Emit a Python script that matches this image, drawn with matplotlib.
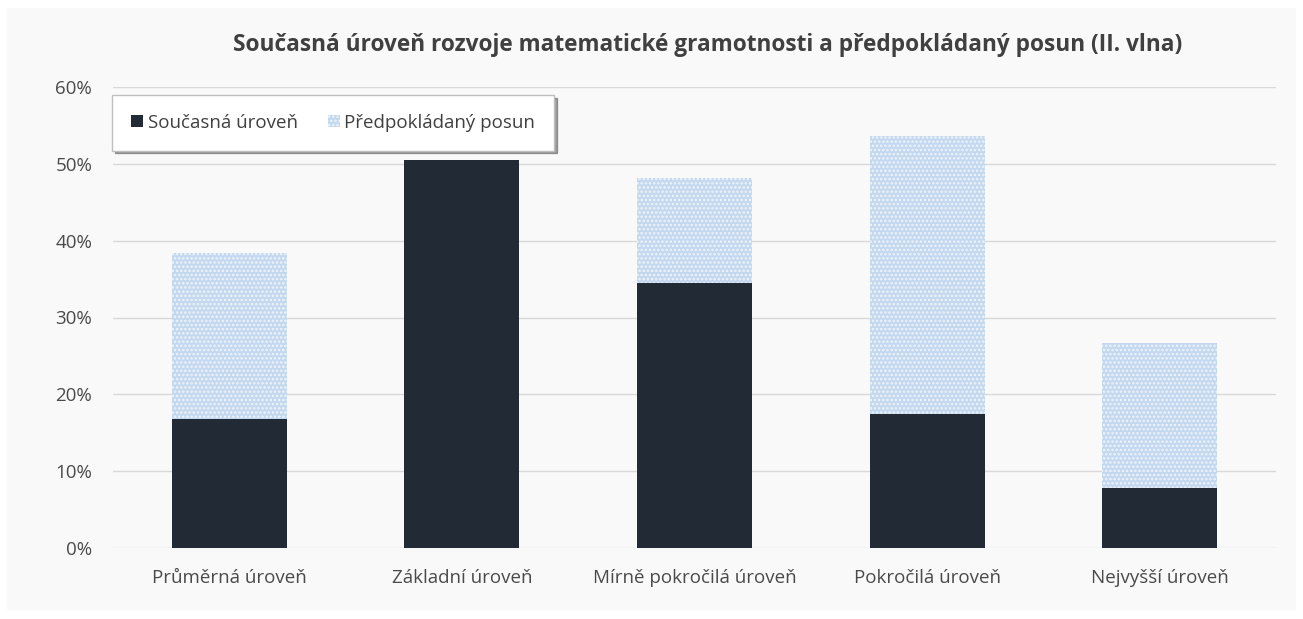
# Import libraries
import matplotlib.pyplot as plt
from matplotlib.patches import Rectangle
from matplotlib.ticker import PercentFormatter

plt.rcParams['font.family'] = ['Open Sans', 'DejaVu Sans']
plt.rcParams['hatch.linewidth'] = 1.2

# Data
categories = ["Průměrná úroveň", "Základní úroveň", "Mírně pokročilá úroveň",
              "Pokročilá úroveň", "Nejvyšší úroveň"]
current_level = [16.8, 50.5, 34.5, 17.4, 7.8]
expected_shift = [21.6, 0.0, 13.7, 36.2, 18.9]

# Figure
fig = plt.figure(figsize=(13.03, 6.19), dpi=100, facecolor="white")
fig.patches.append(Rectangle((7 / 1303, 9 / 619), 1289 / 1303, 602 / 619,
                             transform=fig.transFigure, facecolor="#f9f9f9",
                             edgecolor="none", zorder=-5))
ax = fig.add_axes([113 / 1303, 1 - 548 / 619, 1163 / 1303, 461 / 619])
ax.set_facecolor("none")

x = range(len(categories))
ax.bar(x, current_level, width=0.495, color="#222a36", label="Současná úroveň", zorder=3)
ax.bar(x, expected_shift, width=0.495, bottom=current_level, facecolor="#c3d8ee",
       edgecolor="#eef4fb", hatch="....", linewidth=0, label="Předpokládaný posun", zorder=3)

# Axes styling
ax.set_xlim(-0.5, len(categories) - 0.5)
ax.set_ylim(0, 60)
ax.set_yticks(range(0, 61, 10))
ax.yaxis.set_major_formatter(PercentFormatter(decimals=0))
ax.set_xticks(list(x))
ax.set_xticklabels(categories)
ax.grid(axis="y", color="#d9d9d9", linewidth=1, zorder=0)
for spine in ax.spines.values():
    spine.set_visible(False)
ax.tick_params(axis="both", length=0, labelsize=13.5, colors="#4a4a4a")
ax.tick_params(axis="y", pad=15)
ax.tick_params(axis="x", pad=15)

# Title
fig.text(708 / 1303, 1 - 45 / 619, "Současná úroveň rozvoje matematické gramotnosti a předpokládaný posun (II. vlna)",
         ha="center", va="center", fontsize=16.3, fontweight="bold", color="#404040")

# Legend
leg = ax.legend(loc="upper left", bbox_to_anchor=(112 / 1303, 1 - 95 / 619),
                bbox_transform=fig.transFigure, ncol=2, fontsize=13.5, frameon=True,
                fancybox=False, shadow=True, edgecolor="#bfbfbf", handlelength=0.65,
                handleheight=0.65, handletextpad=0.25, columnspacing=1.6,
                borderpad=1.0, borderaxespad=0, labelcolor="#404040")
leg.get_frame().set_facecolor("white")

# Save the plot
plt.savefig("out.png", dpi=100)
